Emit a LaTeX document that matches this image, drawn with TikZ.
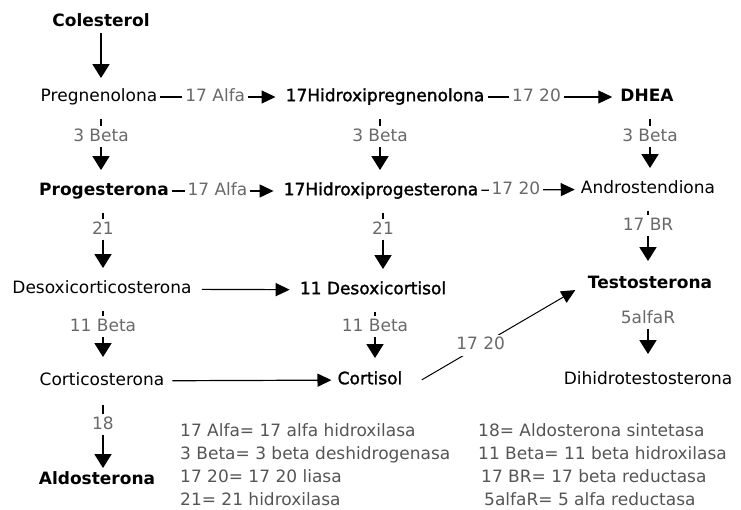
\documentclass[tikz,border=0pt]{standalone}
\usepackage{fontspec}
\setmainfont{DejaVu Sans}
\newfontfamily\semifont{DejaVu Sans}[FakeBold=1.6]
\usepackage{xcolor}
\usepackage{tikz}
\usetikzlibrary{arrows.meta,positioning}

\definecolor{enzgray}{RGB}{105,105,105}
\definecolor{keygray}{RGB}{85,85,85}

\begin{document}
\begin{tikzpicture}[x=1pt, y=-1pt,
    hormone/.style={font=\fontsize{17}{20}\selectfont, text height=12pt, text depth=3.5pt, inner sep=2pt},
    keyhorm/.style={hormone, font=\fontsize{17}{20}\selectfont\bfseries},
    semi/.style={hormone, font=\fontsize{17}{20}\semifont},
    enzyme/.style={font=\fontsize{17}{20}\selectfont, text=enzgray, text height=12pt, text depth=3.5pt, inner sep=1pt},
    onpath/.style={enzyme, fill=white, inner sep=3pt},
    legend/.style={font=\fontsize{17}{23}\selectfont, text=keygray, align=left, inner sep=0pt, anchor=north west},
    tick/.style={line width=1.5pt, shorten <=12pt, shorten >=2pt},
    conv/.style={-{Triangle[length=14pt,width=17pt]}, line width=1.8pt, shorten <=1pt, shorten >=11pt},
    flow/.style={-{Triangle[length=14pt,width=13pt]}, line width=1.2pt, shorten <=1pt, shorten >=8pt}]
    \useasboundingbox (0,0) rectangle (741,510);

    % steroids
    \node[keyhorm] (chol) at (101,22) {Colesterol};
    \node[hormone] (preg) at (99,97) {Pregnenolona};
    \node[semi] (hpreg) at (385,97) {17Hidroxipregnenolona};
    \node[keyhorm] (dhea) at (647,97) {DHEA};
    \node[keyhorm] (prog) at (104,191) {Progesterona};
    \node[semi] (hprog) at (381,191) {17Hidroxiprogesterona};
    \node[hormone] (andro) at (648,189) {Androstendiona};
    \node[hormone] (doc) at (102,289) {Desoxicorticosterona};
    \node[semi] (dcort) at (373,290) {11 Desoxicortisol};
    \node[keyhorm] (testo) at (650,284) {Testosterona};
    \node[hormone] (cortico) at (102,381) {Corticosterona};
    \node[semi] (cortisol) at (370,380) {Cortisol};
    \node[hormone] (dht) at (648,380) {Dihidrotestosterona};
    \node[keyhorm] (aldo) at (97,480) {Aldosterona};

    % enzymes between the rows
    \node[enzyme] (b3a) at (101,137) {3 Beta};
    \node[enzyme] (b3b) at (380,137) {3 Beta};
    \node[enzyme] (b3c) at (650,137) {3 Beta};
    \node[enzyme] (h21a) at (103,230) {21};
    \node[enzyme] (h21b) at (383,230) {21};
    \node[enzyme] (br17) at (648,226) {17 BR};
    \node[enzyme] (b11a) at (103,327) {11 Beta};
    \node[enzyme] (b11b) at (375,327) {11 Beta};
    \node[enzyme] (ar5) at (648,319) {5alfaR};
    \node[enzyme] (s18) at (103,425) {18};

    \draw[conv, shorten >=9pt] (chol) -- (chol |- preg.north);

    \draw[tick] (b3a |- preg.south) -- (b3a);
    \draw[conv] (b3a) -- (b3a |- prog.north);
    \draw[tick] (b3b |- hpreg.south) -- (b3b);
    \draw[conv] (b3b) -- (b3b |- hprog.north);
    \draw[tick] (b3c |- dhea.south) -- (b3c);
    \draw[conv] (b3c) -- (b3c |- andro.north);

    \draw[tick] (h21a |- prog.south) -- (h21a);
    \draw[conv] (h21a) -- (h21a |- doc.north);
    \draw[tick] (h21b |- hprog.south) -- (h21b);
    \draw[conv] (h21b) -- (h21b |- dcort.north);
    \draw[tick] (br17 |- andro.south) -- (br17);
    \draw[conv, shorten >=13pt] (br17) -- (br17 |- testo.north);

    \draw[tick] (b11a |- doc.south) -- (b11a);
    \draw[conv, shorten >=14pt] (b11a) -- (b11a |- cortico.north);
    \draw[tick] (b11b |- dcort.south) -- (b11b);
    \draw[conv, shorten >=12pt] (b11b) -- (b11b |- cortisol.north);
    \draw[conv, shorten >=16pt] (ar5) -- (ar5 |- dht.north);

    \draw[tick, shorten <=14pt] (s18 |- cortico.south) -- (s18);
    \draw[conv, shorten >=2pt] (s18) -- (s18 |- aldo.north);

    % across the rows
    \draw[flow] (preg) -- node[onpath, pos=0.45] {17 Alfa} (hpreg);
    \draw[flow, shorten >=6pt] (hpreg) -- node[onpath, pos=0.38] {17 20} (dhea);
    \draw[flow] (prog) -- node[onpath, pos=0.42] {17 Alfa} (hprog);
    \draw[flow, shorten >=4pt] (hprog) -- node[onpath, pos=0.36] {17 20} (andro);
    \draw[flow, shorten <=8pt] (doc) -- (dcort);
    \draw[flow, shorten <=6pt, shorten >=4pt] (cortico) -- (cortisol);
    \draw[flow, line width=1pt, shorten <=20pt, shorten >=12pt] (cortisol.south east) -- node[onpath, pos=0.42] {17 20} (testo.west);

    % key
    \node[legend] (keyleft) at (180,423) {17 Alfa= 17 alfa hidroxilasa\\3 Beta= 3 beta deshidrogenasa\\17 20= 17 20 liasa\\21= 21 hidroxilasa};
    \node[legend] (keyright) at (478,423) {18= Aldosterona sintetasa\\11 Beta= 11 beta hidroxilasa\\\hspace*{3pt}17 BR= 17 beta reductasa\\\hspace*{6pt}5alfaR= 5 alfa reductasa};
\end{tikzpicture}
\end{document}
